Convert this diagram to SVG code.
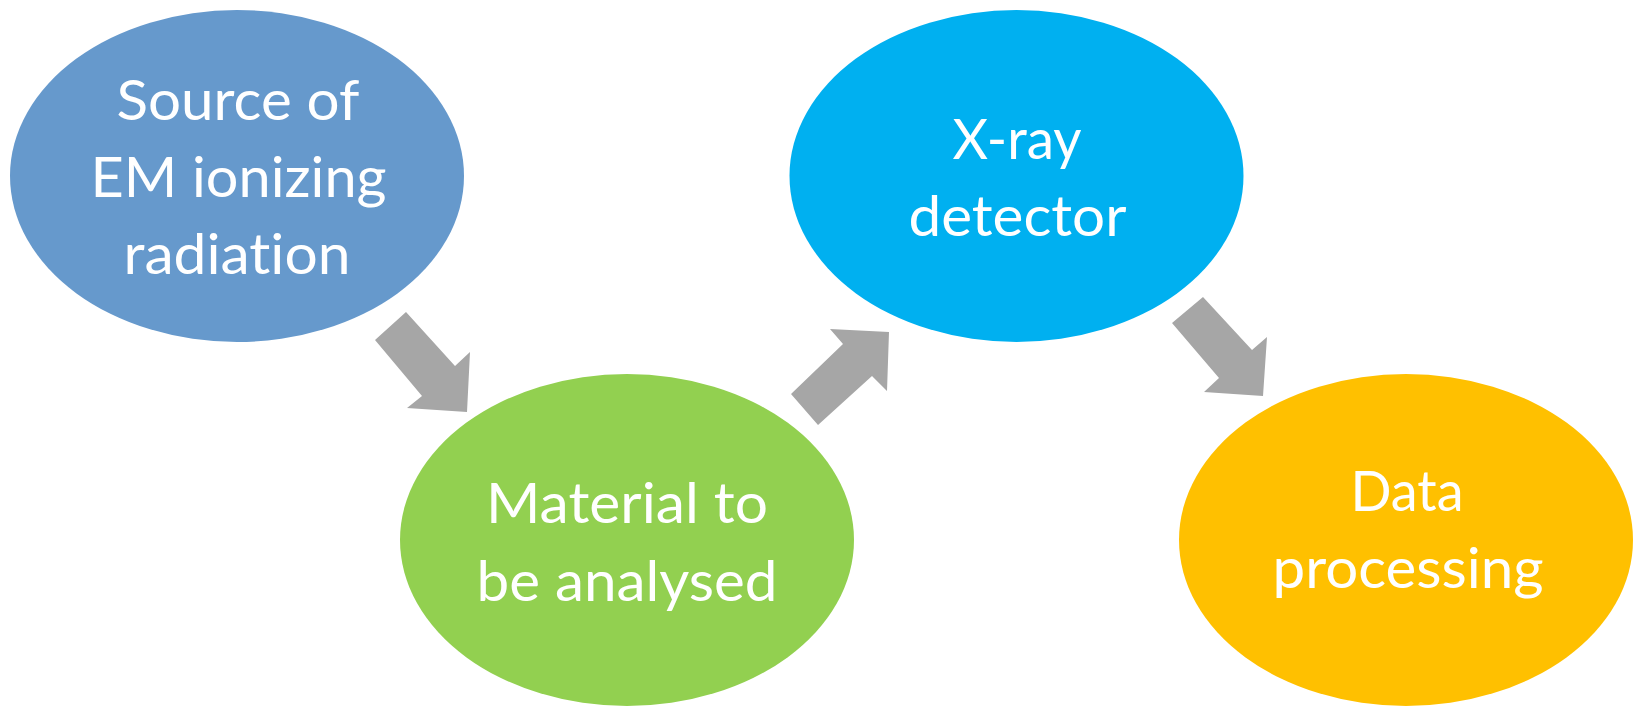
<svg xmlns="http://www.w3.org/2000/svg" width="1638" height="706" viewBox="0 0 1638 706">
<style>
.lbl{font-family:Lato,"Open Sans","Liberation Sans",sans-serif;font-size:57px;fill:#ffffff;text-anchor:middle;font-variant-ligatures:none;font-feature-settings:"liga" 0,"clig" 0}
.arr{fill:#a6a6a6}
</style>
<rect width="1638" height="706" fill="#ffffff"/>
<g id="connectors">
<polygon class="arr" points="406,312 455,366 470,352 467,412 407,408 422,396 375,340"/>
<polygon class="arr" points="818,425 791,394 843,344 830,329 889,332 887,391 872,376"/>
<polygon class="arr" points="1203,297 1252,350 1267,337 1263,396 1204,392 1219,378 1172,323"/>
</g>
<g id="node-source">
<ellipse cx="237" cy="176" rx="227" ry="166" fill="#6699cc"/>
<text class="lbl" x="238" y="120" textLength="243" lengthAdjust="spacingAndGlyphs">Source of</text>
<text class="lbl" x="238.5" y="197" textLength="296" lengthAdjust="spacingAndGlyphs">EM ionizing</text>
<text class="lbl" x="237" y="274" textLength="227" lengthAdjust="spacingAndGlyphs">radiation</text>
</g>
<g id="node-material">
<ellipse cx="627" cy="540" rx="227" ry="166" fill="#92d050"/>
<text class="lbl" x="627" y="523" textLength="282" lengthAdjust="spacingAndGlyphs">Material to</text>
<text class="lbl" x="627" y="601" textLength="301" lengthAdjust="spacingAndGlyphs">be analysed</text>
</g>
<g id="node-detector">
<ellipse cx="1016.5" cy="176" rx="227" ry="166" fill="#00b0f0"/>
<text class="lbl" x="1017" y="159" textLength="129" lengthAdjust="spacingAndGlyphs">X-ray</text>
<text class="lbl" x="1017.5" y="236" textLength="218" lengthAdjust="spacingAndGlyphs">detector</text>
</g>
<g id="node-data">
<ellipse cx="1406" cy="540" rx="227" ry="166" fill="#ffc000"/>
<text class="lbl" x="1407" y="511" textLength="113" lengthAdjust="spacingAndGlyphs">Data</text>
<text class="lbl" x="1408" y="588" textLength="271" lengthAdjust="spacingAndGlyphs">processing</text>
</g>
</svg>
